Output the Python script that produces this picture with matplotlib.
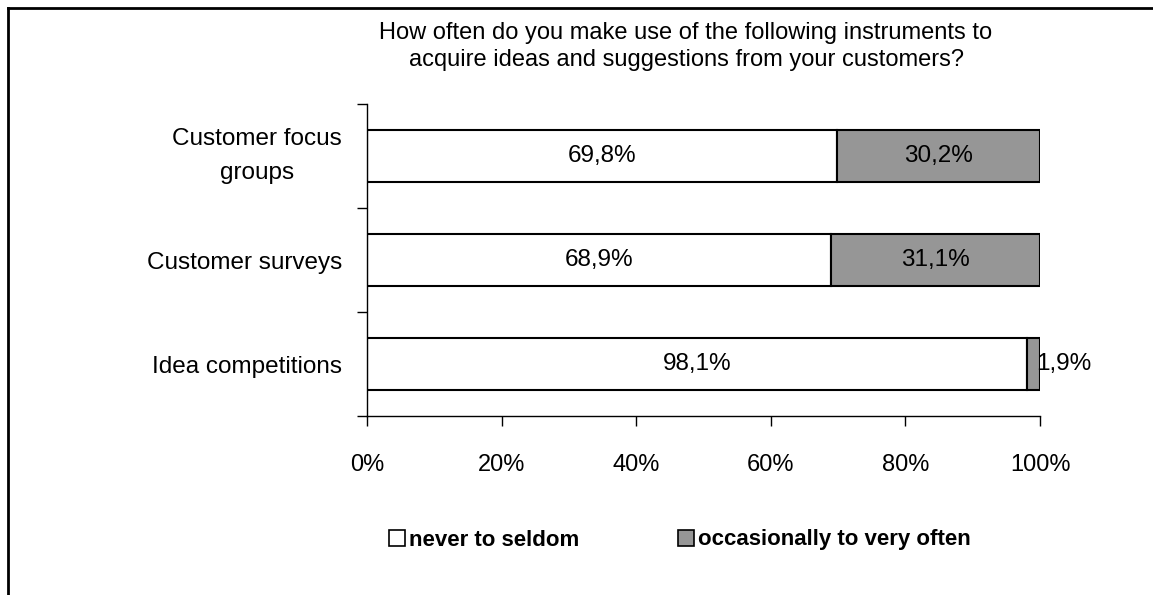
import matplotlib.pyplot as plt
from matplotlib.lines import Line2D

plt.rcParams['font.family'] = ['Liberation Sans', 'DejaVu Sans']

categories = ["Customer focus\ngroups", "Customer surveys", "Idea competitions"]
never = [69.8, 68.9, 98.1]
often = [30.2, 31.1, 1.9]
series_names = ["never to seldom", "occasionally to very often"]
xticks = [0, 20, 40, 60, 80, 100]

fig = plt.figure(figsize=(11.53, 5.95), dpi=100)
ax = fig.add_axes([0.3183, 0.3008, 0.5837, 0.5244])

ypos = list(range(len(categories)))
ax.barh(ypos, never, height=0.5, color='white', edgecolor='black',
        linewidth=1.5, label=series_names[0])
ax.barh(ypos, often, left=never, height=0.5, color='#969696',
        edgecolor='black', linewidth=1.5, label=series_names[1])

for y, a, b in zip(ypos, never, often):
    ax.text(a / 2, y, f"{a:.1f}%".replace('.', ','), ha='center', va='center', fontsize=17.5)
    if b < 5:
        # small segment: label starts inside and runs past the bar end
        ax.text(a + b * 0.7, y, f"{b:.1f}%".replace('.', ','), ha='left', va='center', fontsize=17.5)
    else:
        ax.text(a + b / 2, y, f"{b:.1f}%".replace('.', ','), ha='center', va='center', fontsize=17.5)

ax.set_xlim(0, 100)
ax.set_ylim(2.5, -0.5)
ax.set_xticks(xticks)
ax.set_xticklabels([f"{t}%" for t in xticks], fontsize=17)
ax.set_yticks([-0.5, 0.5, 1.5, 2.5])
ax.set_yticklabels([])
ax.set_yticks(ypos, minor=True)
labels = ax.set_yticklabels(categories, minor=True, fontsize=17.5, ha='right',
                            multialignment='center', linespacing=1.7)
for lab in labels:
    lab.set_va('center' if '\n' in lab.get_text() else 'center_baseline')
ax.tick_params(axis='y', which='minor', length=0, pad=18)
ax.tick_params(axis='y', which='major', length=7, width=1)
ax.tick_params(axis='x', length=7, width=1, pad=20)
for s in ['top', 'right']:
    ax.spines[s].set_visible(False)
for s in ['left', 'bottom']:
    ax.spines[s].set_linewidth(1)

fig.text(0.595, 0.922, "How often do you make use of the following instruments to\n"
         "acquire ideas and suggestions from your customers?",
         ha='center', va='center', fontsize=17, linespacing=1.25)

handles = [
    Line2D([], [], marker='s', linestyle='none', markersize=11.5,
           markerfacecolor='white', markeredgecolor='black', markeredgewidth=1.2),
    Line2D([], [], marker='s', linestyle='none', markersize=11.5,
           markerfacecolor='#969696', markeredgecolor='black', markeredgewidth=1.2),
]
fig.legend(handles, series_names, loc='center left',
           bbox_to_anchor=(389 / 1153, 1 - 540 / 595),
           ncol=2, frameon=False, handletextpad=0.15, columnspacing=4.45,
           handlelength=0.75, borderpad=0, borderaxespad=0,
           prop={'weight': 'bold', 'size': 16})

# outer frame (left and top edges)
fig.add_artist(Line2D([0.0069, 0.0069], [0.0, 0.9866], color='black', lw=2,
                      transform=fig.transFigure))
fig.add_artist(Line2D([0.0069, 1.0], [0.9866, 0.9866], color='black', lw=2,
                      transform=fig.transFigure))

fig.savefig('out.png', dpi=100, facecolor='white')
